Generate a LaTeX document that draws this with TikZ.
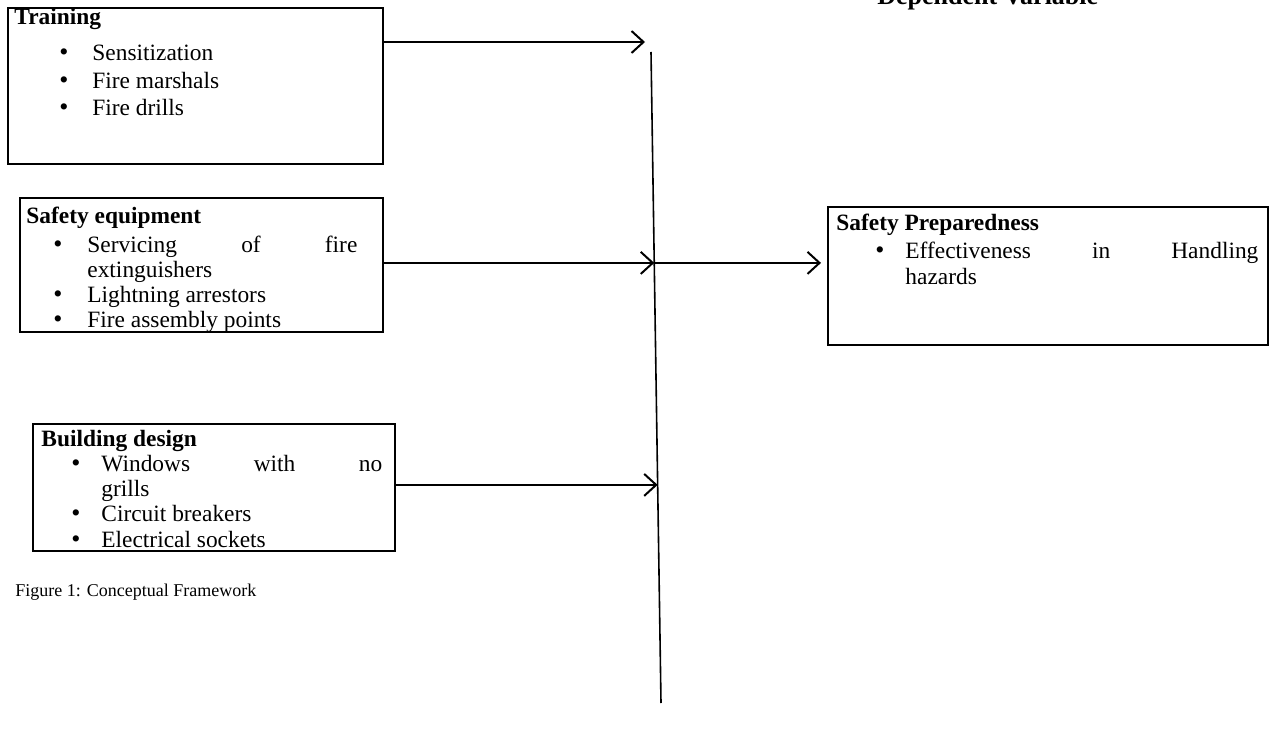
\documentclass[tikz,border=0pt]{standalone}
\usepackage{fontspec}
\setmainfont{Liberation Serif}
\usetikzlibrary{arrows.meta,fit,calc}
\begin{document}
\begin{tikzpicture}[x=0.5pt,y=-0.5pt,
  box/.style={draw, line width=1pt, inner sep=0pt},
  txt/.style={inner sep=0pt, anchor=base west, font=\fontsize{11.7}{14}\selectfont},
  ttl/.style={inner sep=0pt, anchor=base west, font=\fontsize{11.7}{14}\selectfont\bfseries},
  bul/.style={inner sep=0pt, anchor=base, font=\fontsize{13}{14}\selectfont},
  arr/.style={line width=1pt, -{Straight Barb[length=6pt,width=11pt,line width=1pt]}},
  vline/.style={line width=0.8pt}
  ]
\clip (0,0) rectangle (1278,731);
% boxes
\node[box, fit={(8,8)(383,164)}] (training) {};
\node[box, fit={(20,198)(383,332)}] (safety) {};
\node[box, fit={(828,207)(1268,345)}] (prep) {};
\node[box, fit={(33,424)(395,551)}] (building) {};
% Training
\node[ttl] (tt) at (14,25) {Training};
\node[bul] (tb1) at (64,61) {\textbullet};
\node[txt] (t1) at (92,61) {Sensitization};
\node[bul] (tb2) at (64,89) {\textbullet};
\node[txt] (t2) at (92,89) {Fire marshals};
\node[bul] (tb3) at (64,116) {\textbullet};
\node[txt] (t3) at (92,116) {Fire drills};
% Safety equipment
\node[ttl] (st) at (26,224) {Safety equipment};
\node[bul] (sb1) at (58,253) {\textbullet};
\node[txt] (s1) at (87,253) {\makebox[135pt][s]{Servicing of fire}};
\node[txt] (s1b) at (87,278) {extinguishers};
\node[bul] (sb2) at (58,303) {\textbullet};
\node[txt] (s2) at (87,303) {Lightning arrestors};
\node[bul] (sb3) at (58,328) {\textbullet};
\node[txt] (s3) at (87,328) {Fire assembly points};
% Safety Preparedness
\node[ttl] (pt) at (836,231) {Safety Preparedness};
\node[bul] (pb1) at (880,259) {\textbullet};
\node[txt] (p1) at (905,259) {\makebox[176.5pt][s]{Effectiveness in Handling}};
\node[txt] (p1b) at (905,285) {hazards};
% Building design
\node[ttl] (bt) at (41,446) {Building design};
\node[bul] (bb1) at (76,472) {\textbullet};
\node[txt] (b1) at (101,472) {\makebox[140.5pt][s]{Windows with no}};
\node[txt] (b1b) at (101,496) {grills};
\node[bul] (bb2) at (76,521) {\textbullet};
\node[txt] (b2) at (101,521) {Circuit breakers};
\node[bul] (bb3) at (76,547) {\textbullet};
\node[txt] (b3) at (101,547) {Electrical sockets};
% caption and header
\node[inner sep=0pt, anchor=base west, font=\fontsize{9}{11}\selectfont] (cap) at (15,596) {Figure 1: Conceptual Framework};
\node[inner sep=0pt, anchor=base west, font=\fontsize{13}{15}\selectfont\bfseries] (dv) at (877,5) {Dependent Variable};
% connectors
\coordinate (vtop) at (651,52);
\coordinate (vbot) at (661,703);
\draw[vline] (vtop) -- (vbot);
\coordinate (j1) at (645,42);
\coordinate (j2) at ($(vtop)!0.324!(vbot)$);
\coordinate (j3) at ($(vtop)!0.665!(vbot)$);
\draw[arr] (training.east |- j1) -- (j1);
\draw[arr] (safety.east |- j2) -- (j2);
\draw[arr, shorten >=3pt] (j2) -- (prep.west |- j2);
\draw[arr] (building.east |- j3) -- (j3);
\end{tikzpicture}
\end{document}
